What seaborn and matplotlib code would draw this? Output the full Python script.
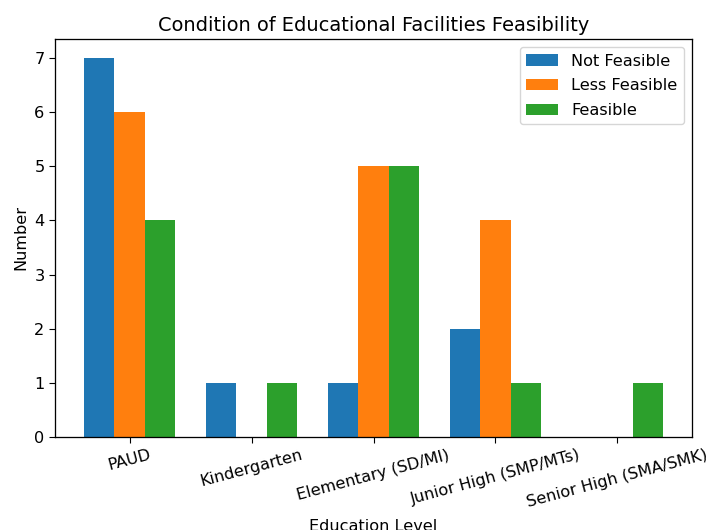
import numpy as np
import pandas as pd
import matplotlib
matplotlib.use("Agg")
import matplotlib.pyplot as plt
import seaborn as sns

levels = ["PAUD", "Kindergarten", "Elementary (SD/MI)", "Junior High (SMP/MTs)", "Senior High (SMA/SMK)"]
not_feasible = [7, 1, 1, 2, 0]
less_feasible = [6, 0, 5, 4, 0]
feasible = [4, 1, 5, 1, 1]
status_names = ["Not Feasible", "Less Feasible", "Feasible"]

df = pd.DataFrame({
    "level": levels * 3,
    "status": [s for s in status_names for _ in levels],
    "count": not_feasible + less_feasible + feasible,
})

palette = ["#1f77b4", "#ff7f0e", "#2ca02c"]

# reference looks rendered at ~1.16x scale
s = 1.16
plt.rcParams["font.size"] = 10 * s
plt.rcParams["axes.titlesize"] = 12 * s
plt.rcParams["xtick.major.size"] = 3.5 * s
plt.rcParams["ytick.major.size"] = 3.5 * s
plt.rcParams["axes.linewidth"] = 0.8 * s

fig = plt.figure(figsize=(7.06, 5.3), dpi=100)
ax = fig.add_axes([55/706, 1-437/530, 637/706, 398/530])
sns.barplot(data=df, x="level", y="count", hue="status", palette=palette,
            width=0.75, gap=0, saturation=1, ax=ax, errorbar=None)
ax.set_xlim(-0.6125, 4.6125)
ax.set_ylim(0, 7.35)
ax.set_title("Condition of Educational Facilities Feasibility")
ax.set_xlabel("Education Level", labelpad=6)
ax.set_ylabel("Number")
plt.setp(ax.get_xticklabels(), rotation=15)
ax.legend(loc="upper right", labelspacing=0.6).set_title(None)

fig.savefig("out.png", dpi=100)
